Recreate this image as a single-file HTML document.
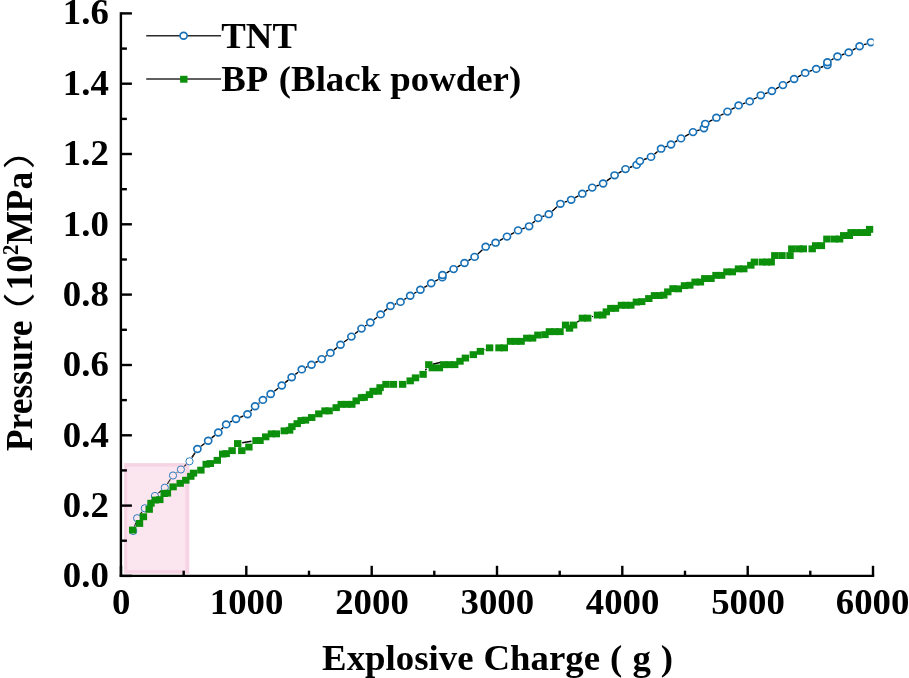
<!DOCTYPE html>
<html lang="en"><head><meta charset="utf-8"><title>Pressure vs Explosive Charge</title>
<style>html,body{margin:0;padding:0;background:#fff;}body{width:909px;height:678px;overflow:hidden;}svg{display:block;}.par{font-family:"Noto Sans CJK SC",sans-serif;font-weight:400;}text{font-family:"Liberation Serif","Noto Serif CJK SC",serif;font-weight:bold;fill:#000;}</style></head><body>
<svg width="909" height="678" viewBox="0 0 909 678">
<rect x="0" y="0" width="909" height="678" fill="#ffffff"/>
<defs><clipPath id="plotclip"><rect x="121.0" y="0" width="752.6" height="576.9"/></clipPath></defs>
<g clip-path="url(#plotclip)">
<path d="M134.5 526.7L135.8 522.5M139.9 514.6L142.0 511.9M147.7 504.8L152.0 499.5M158.3 493.1L161.4 490.6M167.3 484.0L170.5 479.2M176.6 472.8L177.3 472.2M184.2 466.4L186.2 464.4M191.9 457.5L195.0 452.8M201.0 446.3L204.6 443.5M211.7 437.9L214.8 435.4M221.4 429.3L223.1 427.6M230.1 422.2L232.1 421.2M240.2 417.3L243.3 416.0M250.6 411.0L252.0 409.5M258.6 403.4L259.4 402.7M266.5 397.2L267.1 396.7M274.3 391.3L278.2 388.2M285.2 382.6L288.3 380.1M295.3 374.4L298.2 372.2M305.8 367.4L307.5 366.7M315.4 362.5L317.8 361.3M325.4 356.5L326.7 355.5M333.9 350.1L337.0 347.5M344.1 342.0L347.8 339.3M354.9 333.8L358.0 331.4M365.2 326.0L366.6 325.1M373.8 319.7L377.1 317.2M384.0 311.5L387.1 308.9M394.7 304.3L396.3 303.6M404.3 299.5L406.4 298.2M414.1 293.5L416.5 292.0M424.3 287.4L427.3 285.6M435.2 281.2L438.3 279.5M446.5 272.9L449.6 271.2M457.5 266.9L460.6 265.2M468.4 260.7L470.7 259.2M477.9 253.9L482.4 249.7M489.9 245.0L491.4 244.4M499.6 240.6L503.0 238.7M510.9 234.4L514.2 232.6M522.3 228.8L524.9 227.9M532.4 223.3L534.9 221.1M542.4 216.5L544.6 215.8M552.2 211.2L557.0 206.8M564.6 202.2L567.0 201.4M575.1 197.6L578.4 195.9M586.1 191.3L588.4 190.0M596.4 186.0L598.9 185.1M606.8 180.9L610.9 177.9M618.5 173.1L621.6 171.3M629.7 167.5L632.4 166.5M644.1 159.5L646.8 158.5M654.5 154.1L657.6 151.5M665.2 146.9L666.9 146.3M674.8 142.2L677.2 140.7M685.0 136.3L689.0 134.2M697.2 130.6L699.7 129.8M709.2 121.6L712.5 119.9M720.3 115.5L723.6 113.8M731.4 109.4L734.7 107.6M742.8 103.9L745.5 102.9M753.6 99.2L756.9 97.5M765.0 93.7L767.7 92.6M775.9 88.9L778.9 87.2M786.9 82.9L790.1 81.2M798.0 76.8L801.3 75.1M809.4 71.4L812.0 70.4M820.5 67.5L823.1 66.5M831.3 60.0L833.6 58.7M841.7 55.0L844.5 53.9M852.6 50.2L855.7 48.4M863.9 44.7L866.7 43.8" fill="none" stroke="#000" stroke-width="1.4"/>
<ellipse cx="197.4" cy="449.0" rx="3.58" ry="3.35" fill="#fff" stroke="#1771b8" stroke-width="1.65"/>
<ellipse cx="208.2" cy="440.8" rx="3.58" ry="3.35" fill="#fff" stroke="#1771b8" stroke-width="1.65"/>
<ellipse cx="218.3" cy="432.5" rx="3.58" ry="3.35" fill="#fff" stroke="#1771b8" stroke-width="1.65"/>
<ellipse cx="226.2" cy="424.4" rx="3.58" ry="3.35" fill="#fff" stroke="#1771b8" stroke-width="1.65"/>
<ellipse cx="236.0" cy="419.0" rx="3.58" ry="3.35" fill="#fff" stroke="#1771b8" stroke-width="1.65"/>
<ellipse cx="247.5" cy="414.3" rx="3.58" ry="3.35" fill="#fff" stroke="#1771b8" stroke-width="1.65"/>
<ellipse cx="255.1" cy="406.2" rx="3.58" ry="3.35" fill="#fff" stroke="#1771b8" stroke-width="1.65"/>
<ellipse cx="262.9" cy="399.9" rx="3.58" ry="3.35" fill="#fff" stroke="#1771b8" stroke-width="1.65"/>
<ellipse cx="270.7" cy="394.0" rx="3.58" ry="3.35" fill="#fff" stroke="#1771b8" stroke-width="1.65"/>
<ellipse cx="281.8" cy="385.5" rx="3.58" ry="3.35" fill="#fff" stroke="#1771b8" stroke-width="1.65"/>
<ellipse cx="291.7" cy="377.2" rx="3.58" ry="3.35" fill="#fff" stroke="#1771b8" stroke-width="1.65"/>
<ellipse cx="301.8" cy="369.4" rx="3.58" ry="3.35" fill="#fff" stroke="#1771b8" stroke-width="1.65"/>
<ellipse cx="311.5" cy="364.7" rx="3.58" ry="3.35" fill="#fff" stroke="#1771b8" stroke-width="1.65"/>
<ellipse cx="321.7" cy="359.1" rx="3.58" ry="3.35" fill="#fff" stroke="#1771b8" stroke-width="1.65"/>
<ellipse cx="330.4" cy="352.9" rx="3.58" ry="3.35" fill="#fff" stroke="#1771b8" stroke-width="1.65"/>
<ellipse cx="340.5" cy="344.7" rx="3.58" ry="3.35" fill="#fff" stroke="#1771b8" stroke-width="1.65"/>
<ellipse cx="351.4" cy="336.6" rx="3.58" ry="3.35" fill="#fff" stroke="#1771b8" stroke-width="1.65"/>
<ellipse cx="361.5" cy="328.6" rx="3.58" ry="3.35" fill="#fff" stroke="#1771b8" stroke-width="1.65"/>
<ellipse cx="370.3" cy="322.5" rx="3.58" ry="3.35" fill="#fff" stroke="#1771b8" stroke-width="1.65"/>
<ellipse cx="380.6" cy="314.4" rx="3.58" ry="3.35" fill="#fff" stroke="#1771b8" stroke-width="1.65"/>
<ellipse cx="390.5" cy="306.0" rx="3.58" ry="3.35" fill="#fff" stroke="#1771b8" stroke-width="1.65"/>
<ellipse cx="400.5" cy="301.9" rx="3.58" ry="3.35" fill="#fff" stroke="#1771b8" stroke-width="1.65"/>
<ellipse cx="410.2" cy="295.8" rx="3.58" ry="3.35" fill="#fff" stroke="#1771b8" stroke-width="1.65"/>
<ellipse cx="420.4" cy="289.7" rx="3.58" ry="3.35" fill="#fff" stroke="#1771b8" stroke-width="1.65"/>
<ellipse cx="431.2" cy="283.3" rx="3.58" ry="3.35" fill="#fff" stroke="#1771b8" stroke-width="1.65"/>
<ellipse cx="442.3" cy="277.4" rx="3.58" ry="3.35" fill="#fff" stroke="#1771b8" stroke-width="1.65"/>
<ellipse cx="442.5" cy="275.0" rx="3.58" ry="3.35" fill="#fff" stroke="#1771b8" stroke-width="1.65"/>
<ellipse cx="453.6" cy="269.1" rx="3.58" ry="3.35" fill="#fff" stroke="#1771b8" stroke-width="1.65"/>
<ellipse cx="464.5" cy="263.0" rx="3.58" ry="3.35" fill="#fff" stroke="#1771b8" stroke-width="1.65"/>
<ellipse cx="474.6" cy="256.9" rx="3.58" ry="3.35" fill="#fff" stroke="#1771b8" stroke-width="1.65"/>
<ellipse cx="485.7" cy="246.7" rx="3.58" ry="3.35" fill="#fff" stroke="#1771b8" stroke-width="1.65"/>
<ellipse cx="495.6" cy="242.7" rx="3.58" ry="3.35" fill="#fff" stroke="#1771b8" stroke-width="1.65"/>
<ellipse cx="507.0" cy="236.6" rx="3.58" ry="3.35" fill="#fff" stroke="#1771b8" stroke-width="1.65"/>
<ellipse cx="518.1" cy="230.4" rx="3.58" ry="3.35" fill="#fff" stroke="#1771b8" stroke-width="1.65"/>
<ellipse cx="529.1" cy="226.3" rx="3.58" ry="3.35" fill="#fff" stroke="#1771b8" stroke-width="1.65"/>
<ellipse cx="538.2" cy="218.1" rx="3.58" ry="3.35" fill="#fff" stroke="#1771b8" stroke-width="1.65"/>
<ellipse cx="548.8" cy="214.2" rx="3.58" ry="3.35" fill="#fff" stroke="#1771b8" stroke-width="1.65"/>
<ellipse cx="560.4" cy="203.8" rx="3.58" ry="3.35" fill="#fff" stroke="#1771b8" stroke-width="1.65"/>
<ellipse cx="571.2" cy="199.8" rx="3.58" ry="3.35" fill="#fff" stroke="#1771b8" stroke-width="1.65"/>
<ellipse cx="582.3" cy="193.7" rx="3.58" ry="3.35" fill="#fff" stroke="#1771b8" stroke-width="1.65"/>
<ellipse cx="592.2" cy="187.6" rx="3.58" ry="3.35" fill="#fff" stroke="#1771b8" stroke-width="1.65"/>
<ellipse cx="603.1" cy="183.5" rx="3.58" ry="3.35" fill="#fff" stroke="#1771b8" stroke-width="1.65"/>
<ellipse cx="614.6" cy="175.3" rx="3.58" ry="3.35" fill="#fff" stroke="#1771b8" stroke-width="1.65"/>
<ellipse cx="625.5" cy="169.1" rx="3.58" ry="3.35" fill="#fff" stroke="#1771b8" stroke-width="1.65"/>
<ellipse cx="636.6" cy="164.9" rx="3.58" ry="3.35" fill="#fff" stroke="#1771b8" stroke-width="1.65"/>
<ellipse cx="639.9" cy="161.1" rx="3.58" ry="3.35" fill="#fff" stroke="#1771b8" stroke-width="1.65"/>
<ellipse cx="651.0" cy="156.9" rx="3.58" ry="3.35" fill="#fff" stroke="#1771b8" stroke-width="1.65"/>
<ellipse cx="661.1" cy="148.7" rx="3.58" ry="3.35" fill="#fff" stroke="#1771b8" stroke-width="1.65"/>
<ellipse cx="671.0" cy="144.5" rx="3.58" ry="3.35" fill="#fff" stroke="#1771b8" stroke-width="1.65"/>
<ellipse cx="681.0" cy="138.4" rx="3.58" ry="3.35" fill="#fff" stroke="#1771b8" stroke-width="1.65"/>
<ellipse cx="693.0" cy="132.1" rx="3.58" ry="3.35" fill="#fff" stroke="#1771b8" stroke-width="1.65"/>
<ellipse cx="703.9" cy="128.3" rx="3.58" ry="3.35" fill="#fff" stroke="#1771b8" stroke-width="1.65"/>
<ellipse cx="705.3" cy="123.8" rx="3.58" ry="3.35" fill="#fff" stroke="#1771b8" stroke-width="1.65"/>
<ellipse cx="716.4" cy="117.7" rx="3.58" ry="3.35" fill="#fff" stroke="#1771b8" stroke-width="1.65"/>
<ellipse cx="727.5" cy="111.6" rx="3.58" ry="3.35" fill="#fff" stroke="#1771b8" stroke-width="1.65"/>
<ellipse cx="738.6" cy="105.4" rx="3.58" ry="3.35" fill="#fff" stroke="#1771b8" stroke-width="1.65"/>
<ellipse cx="749.7" cy="101.4" rx="3.58" ry="3.35" fill="#fff" stroke="#1771b8" stroke-width="1.65"/>
<ellipse cx="760.8" cy="95.3" rx="3.58" ry="3.35" fill="#fff" stroke="#1771b8" stroke-width="1.65"/>
<ellipse cx="771.9" cy="91.0" rx="3.58" ry="3.35" fill="#fff" stroke="#1771b8" stroke-width="1.65"/>
<ellipse cx="782.9" cy="85.1" rx="3.58" ry="3.35" fill="#fff" stroke="#1771b8" stroke-width="1.65"/>
<ellipse cx="794.1" cy="79.0" rx="3.58" ry="3.35" fill="#fff" stroke="#1771b8" stroke-width="1.65"/>
<ellipse cx="805.2" cy="72.9" rx="3.58" ry="3.35" fill="#fff" stroke="#1771b8" stroke-width="1.65"/>
<ellipse cx="816.2" cy="68.9" rx="3.58" ry="3.35" fill="#fff" stroke="#1771b8" stroke-width="1.65"/>
<ellipse cx="827.4" cy="65.1" rx="3.58" ry="3.35" fill="#fff" stroke="#1771b8" stroke-width="1.65"/>
<ellipse cx="827.4" cy="62.2" rx="3.58" ry="3.35" fill="#fff" stroke="#1771b8" stroke-width="1.65"/>
<ellipse cx="837.5" cy="56.5" rx="3.58" ry="3.35" fill="#fff" stroke="#1771b8" stroke-width="1.65"/>
<ellipse cx="848.7" cy="52.4" rx="3.58" ry="3.35" fill="#fff" stroke="#1771b8" stroke-width="1.65"/>
<ellipse cx="859.6" cy="46.2" rx="3.58" ry="3.35" fill="#fff" stroke="#1771b8" stroke-width="1.65"/>
<ellipse cx="871.0" cy="42.3" rx="3.58" ry="3.35" fill="#fff" stroke="#1771b8" stroke-width="1.65"/>
</g>
<rect x="124.1" y="463.1" width="65.2" height="110.6" fill="#f7d4e3"/>
<rect x="127.3" y="466.7" width="58" height="103.5" fill="#fbe5ee"/>
<path d="M134.5 526.6L135.8 522.6M139.9 514.6L142.0 511.9M147.7 504.7L152.0 499.6M158.4 493.0L161.3 490.7M167.4 483.9L170.4 479.3M176.7 472.7L177.2 472.3M184.2 466.3L186.2 464.5M192.0 457.4L194.9 452.9" fill="none" stroke="#222" stroke-width="1.1"/>
<circle cx="133.2" cy="531.0" r="3.6" fill="#fbe5ee" stroke="#1771b8" stroke-width="0.9"/>
<circle cx="137.1" cy="518.2" r="3.6" fill="#fbe5ee" stroke="#1771b8" stroke-width="0.9"/>
<circle cx="144.8" cy="508.3" r="3.6" fill="#fbe5ee" stroke="#1771b8" stroke-width="0.9"/>
<circle cx="154.9" cy="496.0" r="3.6" fill="#fbe5ee" stroke="#1771b8" stroke-width="0.9"/>
<circle cx="164.8" cy="487.7" r="3.6" fill="#fbe5ee" stroke="#1771b8" stroke-width="0.9"/>
<circle cx="173.0" cy="475.5" r="3.6" fill="#fbe5ee" stroke="#1771b8" stroke-width="0.9"/>
<circle cx="180.9" cy="469.5" r="3.6" fill="#fbe5ee" stroke="#1771b8" stroke-width="0.9"/>
<circle cx="189.5" cy="461.3" r="3.6" fill="#fff" stroke="#1771b8" stroke-width="0.9"/>
<g clip-path="url(#plotclip)">
<path d="M425.4 370.3L426.5 368.6M484.7 349.8L485.3 349.5M577.2 322.2L578.8 320.9M592.1 316.7L593.1 316.4" fill="none" stroke="#000" stroke-width="1.4"/>
<path d="M242.2 442.8L251.5 441.2" fill="none" stroke="#000" stroke-width="1.4"/>
<path d="M432.6 364.2L441 362.3" stroke="#000" stroke-width="1.4" fill="none"/>
<rect x="129.0" y="526.6" width="7.4" height="6.9" fill="#0c900c"/>
<rect x="135.8" y="520.0" width="7.4" height="6.9" fill="#0c900c"/>
<rect x="139.7" y="513.3" width="7.4" height="6.9" fill="#0c900c"/>
<rect x="145.5" y="505.9" width="7.4" height="6.9" fill="#0c900c"/>
<rect x="147.3" y="499.8" width="7.4" height="6.9" fill="#0c900c"/>
<rect x="151.7" y="496.6" width="7.4" height="6.9" fill="#0c900c"/>
<rect x="156.1" y="496.2" width="7.4" height="6.9" fill="#0c900c"/>
<rect x="160.5" y="490.1" width="7.4" height="6.9" fill="#0c900c"/>
<rect x="163.7" y="489.7" width="7.4" height="6.9" fill="#0c900c"/>
<rect x="169.4" y="483.4" width="7.4" height="6.9" fill="#0c900c"/>
<rect x="176.5" y="479.9" width="7.4" height="6.9" fill="#0c900c"/>
<rect x="182.1" y="476.8" width="7.4" height="6.9" fill="#0c900c"/>
<rect x="187.1" y="472.9" width="7.4" height="6.9" fill="#0c900c"/>
<rect x="189.8" y="469.7" width="7.4" height="6.9" fill="#0c900c"/>
<rect x="197.2" y="466.7" width="7.4" height="6.9" fill="#0c900c"/>
<rect x="202.5" y="460.8" width="7.4" height="6.9" fill="#0c900c"/>
<rect x="206.6" y="460.1" width="7.4" height="6.9" fill="#0c900c"/>
<rect x="213.6" y="456.9" width="7.4" height="6.9" fill="#0c900c"/>
<rect x="219.0" y="450.6" width="7.4" height="6.9" fill="#0c900c"/>
<rect x="222.5" y="450.2" width="7.4" height="6.9" fill="#0c900c"/>
<rect x="228.4" y="447.2" width="7.4" height="6.9" fill="#0c900c"/>
<rect x="234.0" y="440.1" width="7.4" height="6.9" fill="#0c900c"/>
<rect x="238.1" y="447.2" width="7.4" height="6.9" fill="#0c900c"/>
<rect x="245.2" y="443.6" width="7.4" height="6.9" fill="#0c900c"/>
<rect x="252.3" y="437.1" width="7.4" height="6.9" fill="#0c900c"/>
<rect x="256.3" y="437.1" width="7.4" height="6.9" fill="#0c900c"/>
<rect x="262.0" y="433.4" width="7.4" height="6.9" fill="#0c900c"/>
<rect x="267.7" y="430.4" width="7.4" height="6.9" fill="#0c900c"/>
<rect x="272.6" y="430.4" width="7.4" height="6.9" fill="#0c900c"/>
<rect x="280.6" y="427.4" width="7.4" height="6.9" fill="#0c900c"/>
<rect x="285.9" y="426.8" width="7.4" height="6.9" fill="#0c900c"/>
<rect x="288.2" y="423.2" width="7.4" height="6.9" fill="#0c900c"/>
<rect x="293.5" y="420.2" width="7.4" height="6.9" fill="#0c900c"/>
<rect x="297.4" y="417.1" width="7.4" height="6.9" fill="#0c900c"/>
<rect x="301.8" y="416.7" width="7.4" height="6.9" fill="#0c900c"/>
<rect x="308.0" y="414.1" width="7.4" height="6.9" fill="#0c900c"/>
<rect x="315.1" y="410.4" width="7.4" height="6.9" fill="#0c900c"/>
<rect x="321.3" y="407.4" width="7.4" height="6.9" fill="#0c900c"/>
<rect x="325.4" y="407.4" width="7.4" height="6.9" fill="#0c900c"/>
<rect x="332.5" y="404.2" width="7.4" height="6.9" fill="#0c900c"/>
<rect x="337.5" y="400.9" width="7.4" height="6.9" fill="#0c900c"/>
<rect x="342.8" y="400.9" width="7.4" height="6.9" fill="#0c900c"/>
<rect x="348.1" y="400.9" width="7.4" height="6.9" fill="#0c900c"/>
<rect x="352.5" y="397.4" width="7.4" height="6.9" fill="#0c900c"/>
<rect x="357.8" y="394.2" width="7.4" height="6.9" fill="#0c900c"/>
<rect x="360.5" y="393.9" width="7.4" height="6.9" fill="#0c900c"/>
<rect x="365.8" y="391.2" width="7.4" height="6.9" fill="#0c900c"/>
<rect x="369.4" y="387.8" width="7.4" height="6.9" fill="#0c900c"/>
<rect x="374.7" y="387.8" width="7.4" height="6.9" fill="#0c900c"/>
<rect x="376.4" y="384.2" width="7.4" height="6.9" fill="#0c900c"/>
<rect x="382.3" y="380.9" width="7.4" height="6.9" fill="#0c900c"/>
<rect x="389.7" y="380.9" width="7.4" height="6.9" fill="#0c900c"/>
<rect x="398.9" y="380.9" width="7.4" height="6.9" fill="#0c900c"/>
<rect x="406.5" y="377.4" width="7.4" height="6.9" fill="#0c900c"/>
<rect x="411.8" y="374.4" width="7.4" height="6.9" fill="#0c900c"/>
<rect x="419.4" y="370.9" width="7.4" height="6.9" fill="#0c900c"/>
<rect x="425.1" y="361.2" width="7.4" height="6.9" fill="#0c900c"/>
<rect x="428.6" y="364.4" width="7.4" height="6.9" fill="#0c900c"/>
<rect x="435.7" y="364.4" width="7.4" height="6.9" fill="#0c900c"/>
<rect x="440.1" y="361.2" width="7.4" height="6.9" fill="#0c900c"/>
<rect x="445.5" y="361.2" width="7.4" height="6.9" fill="#0c900c"/>
<rect x="451.0" y="361.2" width="7.4" height="6.9" fill="#0c900c"/>
<rect x="456.3" y="357.8" width="7.4" height="6.9" fill="#0c900c"/>
<rect x="461.7" y="354.6" width="7.4" height="6.9" fill="#0c900c"/>
<rect x="469.6" y="351.2" width="7.4" height="6.9" fill="#0c900c"/>
<rect x="476.7" y="347.9" width="7.4" height="6.9" fill="#0c900c"/>
<rect x="485.9" y="344.4" width="7.4" height="6.9" fill="#0c900c"/>
<rect x="495.3" y="344.4" width="7.4" height="6.9" fill="#0c900c"/>
<rect x="500.6" y="344.4" width="7.4" height="6.9" fill="#0c900c"/>
<rect x="506.8" y="337.9" width="7.4" height="6.9" fill="#0c900c"/>
<rect x="512.1" y="337.9" width="7.4" height="6.9" fill="#0c900c"/>
<rect x="517.4" y="337.9" width="7.4" height="6.9" fill="#0c900c"/>
<rect x="523.1" y="334.7" width="7.4" height="6.9" fill="#0c900c"/>
<rect x="528.9" y="334.7" width="7.4" height="6.9" fill="#0c900c"/>
<rect x="534.2" y="331.6" width="7.4" height="6.9" fill="#0c900c"/>
<rect x="541.3" y="331.2" width="7.4" height="6.9" fill="#0c900c"/>
<rect x="545.7" y="328.2" width="7.4" height="6.9" fill="#0c900c"/>
<rect x="551.0" y="328.2" width="7.4" height="6.9" fill="#0c900c"/>
<rect x="556.3" y="328.2" width="7.4" height="6.9" fill="#0c900c"/>
<rect x="561.9" y="321.6" width="7.4" height="6.9" fill="#0c900c"/>
<rect x="565.8" y="324.8" width="7.4" height="6.9" fill="#0c900c"/>
<rect x="569.9" y="321.6" width="7.4" height="6.9" fill="#0c900c"/>
<rect x="578.7" y="314.7" width="7.4" height="6.9" fill="#0c900c"/>
<rect x="584.0" y="314.7" width="7.4" height="6.9" fill="#0c900c"/>
<rect x="593.8" y="311.6" width="7.4" height="6.9" fill="#0c900c"/>
<rect x="599.1" y="311.6" width="7.4" height="6.9" fill="#0c900c"/>
<rect x="602.6" y="308.4" width="7.4" height="6.9" fill="#0c900c"/>
<rect x="607.1" y="304.9" width="7.4" height="6.9" fill="#0c900c"/>
<rect x="611.8" y="304.9" width="7.4" height="6.9" fill="#0c900c"/>
<rect x="617.7" y="301.8" width="7.4" height="6.9" fill="#0c900c"/>
<rect x="622.1" y="301.8" width="7.4" height="6.9" fill="#0c900c"/>
<rect x="627.1" y="301.8" width="7.4" height="6.9" fill="#0c900c"/>
<rect x="632.7" y="298.6" width="7.4" height="6.9" fill="#0c900c"/>
<rect x="638.0" y="298.2" width="7.4" height="6.9" fill="#0c900c"/>
<rect x="645.1" y="295.1" width="7.4" height="6.9" fill="#0c900c"/>
<rect x="650.8" y="292.1" width="7.4" height="6.9" fill="#0c900c"/>
<rect x="655.7" y="292.1" width="7.4" height="6.9" fill="#0c900c"/>
<rect x="660.1" y="291.7" width="7.4" height="6.9" fill="#0c900c"/>
<rect x="664.1" y="288.4" width="7.4" height="6.9" fill="#0c900c"/>
<rect x="669.3" y="285.2" width="7.4" height="6.9" fill="#0c900c"/>
<rect x="674.6" y="285.4" width="7.4" height="6.9" fill="#0c900c"/>
<rect x="680.8" y="282.2" width="7.4" height="6.9" fill="#0c900c"/>
<rect x="686.1" y="281.8" width="7.4" height="6.9" fill="#0c900c"/>
<rect x="691.4" y="278.6" width="7.4" height="6.9" fill="#0c900c"/>
<rect x="696.7" y="278.6" width="7.4" height="6.9" fill="#0c900c"/>
<rect x="701.1" y="275.1" width="7.4" height="6.9" fill="#0c900c"/>
<rect x="707.3" y="275.1" width="7.4" height="6.9" fill="#0c900c"/>
<rect x="712.3" y="271.9" width="7.4" height="6.9" fill="#0c900c"/>
<rect x="717.9" y="271.9" width="7.4" height="6.9" fill="#0c900c"/>
<rect x="723.2" y="268.4" width="7.4" height="6.9" fill="#0c900c"/>
<rect x="728.6" y="268.4" width="7.4" height="6.9" fill="#0c900c"/>
<rect x="734.8" y="265.4" width="7.4" height="6.9" fill="#0c900c"/>
<rect x="740.1" y="265.4" width="7.4" height="6.9" fill="#0c900c"/>
<rect x="747.1" y="261.8" width="7.4" height="6.9" fill="#0c900c"/>
<rect x="750.7" y="258.6" width="7.4" height="6.9" fill="#0c900c"/>
<rect x="758.6" y="258.6" width="7.4" height="6.9" fill="#0c900c"/>
<rect x="763.1" y="258.6" width="7.4" height="6.9" fill="#0c900c"/>
<rect x="767.5" y="258.6" width="7.4" height="6.9" fill="#0c900c"/>
<rect x="771.1" y="252.1" width="7.4" height="6.9" fill="#0c900c"/>
<rect x="778.3" y="252.1" width="7.4" height="6.9" fill="#0c900c"/>
<rect x="786.3" y="252.1" width="7.4" height="6.9" fill="#0c900c"/>
<rect x="788.1" y="245.4" width="7.4" height="6.9" fill="#0c900c"/>
<rect x="795.2" y="245.4" width="7.4" height="6.9" fill="#0c900c"/>
<rect x="799.6" y="245.4" width="7.4" height="6.9" fill="#0c900c"/>
<rect x="808.5" y="245.4" width="7.4" height="6.9" fill="#0c900c"/>
<rect x="812.0" y="242.2" width="7.4" height="6.9" fill="#0c900c"/>
<rect x="817.7" y="242.2" width="7.4" height="6.9" fill="#0c900c"/>
<rect x="823.2" y="235.6" width="7.4" height="6.9" fill="#0c900c"/>
<rect x="830.6" y="235.6" width="7.4" height="6.9" fill="#0c900c"/>
<rect x="835.9" y="235.6" width="7.4" height="6.9" fill="#0c900c"/>
<rect x="840.0" y="232.1" width="7.4" height="6.9" fill="#0c900c"/>
<rect x="845.6" y="232.1" width="7.4" height="6.9" fill="#0c900c"/>
<rect x="847.4" y="229.1" width="7.4" height="6.9" fill="#0c900c"/>
<rect x="852.7" y="229.1" width="7.4" height="6.9" fill="#0c900c"/>
<rect x="858.0" y="229.1" width="7.4" height="6.9" fill="#0c900c"/>
<rect x="863.7" y="229.1" width="7.4" height="6.9" fill="#0c900c"/>
<rect x="866.0" y="225.9" width="7.4" height="6.9" fill="#0c900c"/>
</g>
<g stroke="#000" stroke-width="2.4" fill="none" stroke-linecap="butt">
<line x1="120.9" y1="12.2" x2="120.9" y2="577.1"/>
<line x1="119.7" y1="575.9" x2="874.2" y2="575.9"/>
<line x1="120.9" y1="575.9" x2="131.9" y2="575.9"/>
<line x1="120.9" y1="540.7" x2="126.9" y2="540.7"/>
<line x1="120.9" y1="505.6" x2="131.9" y2="505.6"/>
<line x1="120.9" y1="470.4" x2="126.9" y2="470.4"/>
<line x1="120.9" y1="435.3" x2="131.9" y2="435.3"/>
<line x1="120.9" y1="400.1" x2="126.9" y2="400.1"/>
<line x1="120.9" y1="365.0" x2="131.9" y2="365.0"/>
<line x1="120.9" y1="329.8" x2="126.9" y2="329.8"/>
<line x1="120.9" y1="294.6" x2="131.9" y2="294.6"/>
<line x1="120.9" y1="259.5" x2="126.9" y2="259.5"/>
<line x1="120.9" y1="224.3" x2="131.9" y2="224.3"/>
<line x1="120.9" y1="189.2" x2="126.9" y2="189.2"/>
<line x1="120.9" y1="154.0" x2="131.9" y2="154.0"/>
<line x1="120.9" y1="118.9" x2="126.9" y2="118.9"/>
<line x1="120.9" y1="83.7" x2="131.9" y2="83.7"/>
<line x1="120.9" y1="48.6" x2="126.9" y2="48.6"/>
<line x1="120.9" y1="13.4" x2="131.9" y2="13.4"/>
<line x1="121.0" y1="575.9" x2="121.0" y2="565.8"/>
<line x1="183.7" y1="575.9" x2="183.7" y2="570.7"/>
<line x1="246.3" y1="575.9" x2="246.3" y2="565.8"/>
<line x1="309.0" y1="575.9" x2="309.0" y2="570.7"/>
<line x1="371.7" y1="575.9" x2="371.7" y2="565.8"/>
<line x1="434.3" y1="575.9" x2="434.3" y2="570.7"/>
<line x1="497.0" y1="575.9" x2="497.0" y2="565.8"/>
<line x1="559.7" y1="575.9" x2="559.7" y2="570.7"/>
<line x1="622.3" y1="575.9" x2="622.3" y2="565.8"/>
<line x1="685.0" y1="575.9" x2="685.0" y2="570.7"/>
<line x1="747.7" y1="575.9" x2="747.7" y2="565.8"/>
<line x1="810.3" y1="575.9" x2="810.3" y2="570.7"/>
<line x1="873.0" y1="575.9" x2="873.0" y2="565.8"/>
</g>
<g font-size="35.4">
<text transform="translate(108.8,587.2) scale(1.040,1)" text-anchor="end">0.0</text>
<text transform="translate(108.8,516.9) scale(1.040,1)" text-anchor="end">0.2</text>
<text transform="translate(108.8,446.6) scale(1.040,1)" text-anchor="end">0.4</text>
<text transform="translate(108.8,376.3) scale(1.040,1)" text-anchor="end">0.6</text>
<text transform="translate(108.8,305.9) scale(1.040,1)" text-anchor="end">0.8</text>
<text transform="translate(108.8,235.6) scale(1.040,1)" text-anchor="end">1.0</text>
<text transform="translate(108.8,165.3) scale(1.040,1)" text-anchor="end">1.2</text>
<text transform="translate(108.8,95.0) scale(1.040,1)" text-anchor="end">1.4</text>
<text transform="translate(108.8,23.9) scale(1.040,1)" text-anchor="end">1.6</text>
<text transform="translate(121.3,614.2) scale(1.040,1)" text-anchor="middle">0</text>
<text transform="translate(246.6,614.2) scale(1.040,1)" text-anchor="middle">1000</text>
<text transform="translate(372.0,614.2) scale(1.040,1)" text-anchor="middle">2000</text>
<text transform="translate(497.3,614.2) scale(1.040,1)" text-anchor="middle">3000</text>
<text transform="translate(622.6,614.2) scale(1.040,1)" text-anchor="middle">4000</text>
<text transform="translate(748.0,614.2) scale(1.040,1)" text-anchor="middle">5000</text>
<text transform="translate(872.6,614.2) scale(1.040,1)" text-anchor="middle">6000</text>
</g>
<text transform="translate(497.6,670) scale(1.040,1)" word-spacing="0.8" font-size="35.4" text-anchor="middle">Explosive Charge ( g )</text>
<text transform="translate(32.1,451) scale(1.070,1) rotate(-90)" font-size="35.4" text-anchor="start">Pressure</text>
<text transform="translate(32.1,290.3) scale(1.070,1) rotate(-90)" font-size="35.4" text-anchor="start">10<tspan font-size="20.6" dy="-13.4">2</tspan><tspan dy="13.4">MPa</tspan></text>
<text class="par" transform="translate(30.9,292.5) rotate(-90) scale(1.32,1)" font-size="31.9" text-anchor="end">（</text>
<text class="par" transform="translate(30.9,169.5) rotate(-90) scale(1.32,1)" font-size="31.9" text-anchor="start">）</text>
<g>
<line x1="146.2" y1="35.7" x2="221" y2="35.7" stroke="#2b2b2b" stroke-width="1.5"/>
<ellipse cx="183.6" cy="35.7" rx="3.58" ry="3.35" fill="#fff" stroke="#1771b8" stroke-width="1.65"/>
<text transform="translate(221.3,47.7) scale(1.040,1)" font-size="35.4">TNT</text>
<line x1="146.2" y1="79.0" x2="221" y2="79.0" stroke="#2b2b2b" stroke-width="1.5"/>
<rect x="180.1" y="75.8" width="7.4" height="6.9" fill="#0c900c"/>
<text transform="translate(221.3,91.0) scale(1.040,1)" font-size="35.4">BP <tspan dx="3.2">(Black</tspan> powder)</text>
</g>
</svg></body></html>
